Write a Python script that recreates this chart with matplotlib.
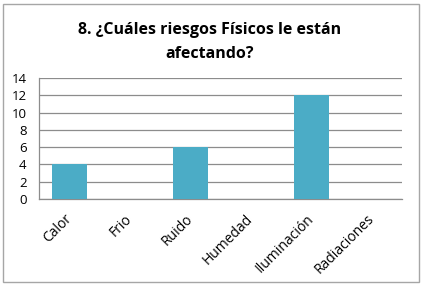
import matplotlib
matplotlib.use("Agg")
import matplotlib.pyplot as plt
import matplotlib.patches as patches

# Datos del gráfico
categorias = ['Calor', 'Frio', 'Ruido', 'Humedad', 'Iluminación', 'Radiaciones']
valores = [4, 0, 6, 0, 12, 0]
ticks_y = [0, 2, 4, 6, 8, 10, 12, 14]

plt.rcParams['font.family'] = ['Open Sans', 'DejaVu Sans']

fig = plt.figure(figsize=(4.23, 2.86), dpi=100)
fig.patch.set_facecolor('white')

# Marco exterior del gráfico
fig.add_artist(patches.Rectangle((3 / 423, 4 / 286), 416 / 423, 278 / 286,
                                 transform=fig.transFigure, fill=False,
                                 edgecolor='#a6a6a6', linewidth=1))

ax = fig.add_axes([39 / 423, 1 - 199 / 286, 363 / 423, 121 / 286])
x = range(len(categorias))
ax.bar(x, valores, width=0.58, color='#4bacc6', zorder=3)

ax.set_xlim(-0.5, len(categorias) - 0.5)
ax.set_ylim(0, 14)
ax.set_yticks(ticks_y)
ax.set_yticklabels([str(t) for t in ticks_y], fontsize=9.5)
ax.yaxis.grid(True, color='#8c8c8c', linewidth=0.9, zorder=0)
ax.set_xticks(list(x))
ax.set_xticklabels(categorias, rotation=45, ha='right', va='center',
                   rotation_mode='anchor', fontsize=10)
ax.tick_params(axis='y', length=0, pad=9)
ax.tick_params(axis='x', length=0, pad=13)

for side in ['top', 'right']:
    ax.spines[side].set_visible(False)
for side in ['left', 'bottom']:
    ax.spines[side].set_color('#8c8c8c')
    ax.spines[side].set_linewidth(0.9)

fig.text(210 / 423, 1 - 42 / 286, '8. ¿Cuáles riesgos Físicos le están\nafectando?',
         ha='center', va='center', fontsize=11.5, fontweight='bold',
         linespacing=1.75)

fig.savefig('out.png', dpi=100)
